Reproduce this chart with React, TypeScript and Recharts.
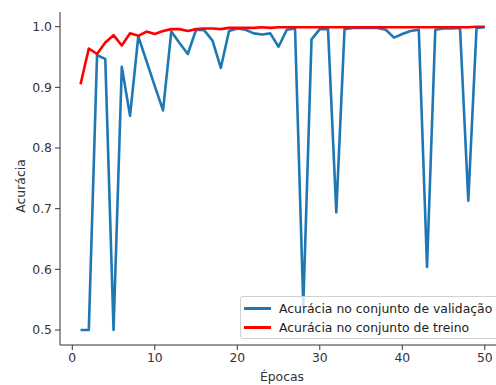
import { LineChart, Line, XAxis, YAxis } from 'recharts';

const epochs = Array.from({ length: 50 }, (_, i) => i + 1);

const validacao = [
  0.5, 0.5, 0.953, 0.947, 0.5, 0.934, 0.853, 0.984, 0.943, 0.902,
  0.862, 0.992, 0.973, 0.955, 0.995, 0.994, 0.977, 0.932, 0.993, 0.997,
  0.995, 0.989, 0.987, 0.989, 0.967, 0.995, 0.997, 0.54, 0.979, 0.996,
  0.996, 0.694, 0.996, 0.998, 0.998, 0.998, 0.998, 0.995, 0.982, 0.988,
  0.993, 0.995, 0.604, 0.995, 0.997, 0.997, 0.998, 0.713, 0.998, 0.999,
];

const treino = [
  0.905, 0.964, 0.955, 0.974, 0.986, 0.969, 0.989, 0.985, 0.992, 0.988,
  0.993, 0.996, 0.996, 0.993, 0.996, 0.997, 0.997, 0.996, 0.998, 0.998,
  0.998, 0.998, 0.999, 0.998, 0.999, 0.999, 0.999, 0.999, 0.999, 0.999,
  0.999, 0.999, 0.999, 0.999, 0.999, 0.999, 0.999, 0.999, 0.999, 0.999,
  0.999, 0.999, 0.999, 0.999, 0.999, 0.999, 0.999, 0.999, 1.0, 1.0,
];

const xTicks = [0, 10, 20, 30, 40, 50];
const yTicks = [0.5, 0.6, 0.7, 0.8, 0.9, 1.0];

const data = epochs.map((e, i) => ({ epoca: e, validacao: validacao[i], treino: treino[i] }));

const font = 'DejaVu Sans, sans-serif';
const tickStyle = { fontFamily: font, fontSize: 12.4, fill: '#333' };

export default function App() {
  return (
    <div style={{ position: 'absolute', left: 0, top: 0, width: 496, height: 385, overflow: 'hidden', background: '#fff' }}>
      <LineChart width={496} height={385} data={data} margin={{ top: 12, right: 0, left: 0, bottom: 0 }}>
        <XAxis
          dataKey="epoca"
          type="number"
          domain={[-1.49, 51.36]}
          allowDataOverflow
          ticks={xTicks}
          height={40}
          stroke="#333"
          tickSize={5}
          tickMargin={3}
          tick={tickStyle}
          label={() => (
            <text x={282} y={381} textAnchor="middle" style={{ fontFamily: font, fontSize: 12.4, fill: '#333' }}>
              Épocas
            </text>
          )}
        />
        <XAxis xAxisId="top" orientation="top" type="number" domain={[-1.49, 51.36]} allowDataOverflow height={0} tick={false} tickLine={false} stroke="#333" />
        <YAxis
          type="number"
          domain={[0.4753, 1.0242]}
          allowDataOverflow
          ticks={yTicks}
          width={60}
          stroke="#333"
          tickSize={5}
          tickMargin={3}
          tick={tickStyle}
          tickFormatter={(v: number) => v.toFixed(1)}
          label={() => (
            <text x={20} y={186} transform="rotate(-90 20 186)" textAnchor="middle" dominantBaseline="central" style={{ fontFamily: font, fontSize: 12.4, fill: '#333' }}>
              Acurácia
            </text>
          )}
        />
        <Line dataKey="validacao" stroke="#1f77b4" strokeWidth={2.6} dot={false} isAnimationActive={false} strokeLinejoin="round" />
        <Line dataKey="treino" stroke="#ff0000" strokeWidth={2.6} dot={false} isAnimationActive={false} strokeLinejoin="round" />
      </LineChart>
      <div
        style={{
          position: 'absolute', left: 240, top: 296, width: 262, height: 43,
          background: 'rgba(255,255,255,0.8)', border: '1px solid #d0d0d0', borderRadius: 3,
          boxSizing: 'border-box', fontFamily: font, fontSize: 12.4, color: '#222',
        }}
      >
        {[
          { name: 'Acurácia no conjunto de validação', color: '#1f77b4', y: 11.7 },
          { name: 'Acurácia no conjunto de treino', color: '#ff0000', y: 30.7 },
        ].map((item) => (
          <div key={item.name} style={{ position: 'absolute', left: 0, top: item.y - 10, height: 20, display: 'flex', alignItems: 'center', whiteSpace: 'nowrap' }}>
            <div style={{ marginLeft: 3, width: 27, height: 2.6, background: item.color }} />
            <span style={{ marginLeft: 8 }}>{item.name}</span>
          </div>
        ))}
      </div>
    </div>
  );
}
